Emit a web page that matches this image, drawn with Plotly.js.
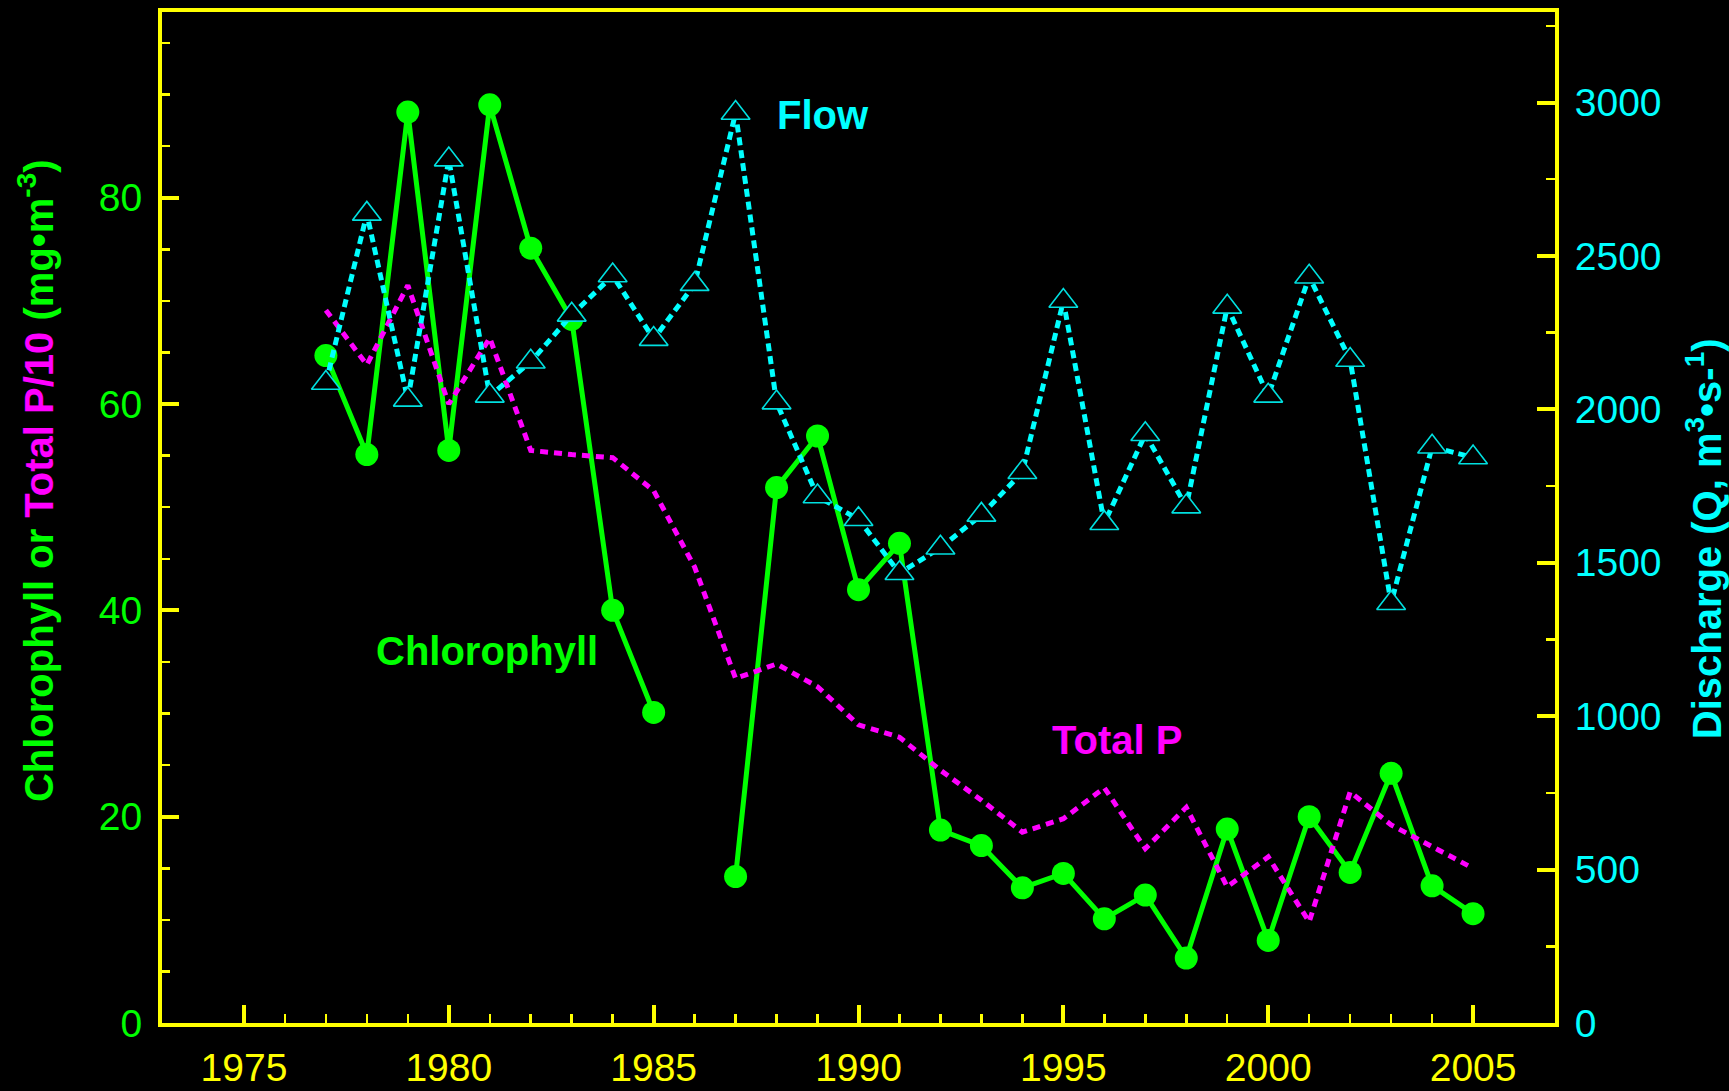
<!DOCTYPE html>
<html>
<head>
<meta charset="utf-8">
<script src="https://cdn.plot.ly/plotly-3.0.1.min.js"></script>
<style>
  html, body { margin: 0; padding: 0; background: #000; }
  #chart { width: 1729px; height: 1091px; }
</style>
</head>
<body>
<div id="chart"></div>
<script>
// ---- Data ----
const years = [1977, 1978, 1979, 1980, 1981, 1982, 1983, 1984, 1985, 1986,
               1987, 1988, 1989, 1990, 1991, 1992, 1993, 1994, 1995, 1996,
               1997, 1998, 1999, 2000, 2001, 2002, 2003, 2004, 2005];

// Chlorophyll (mg m-3); 1986 missing
const chlorophyll = [64.7, 55.1, 88.3, 55.5, 89.0, 75.1, 68.2, 40.0, 30.1, null,
                     14.2, 51.9, 56.9, 42.0, 46.5, 18.7, 17.2, 13.1, 14.5, 10.1,
                     12.4, 6.3, 18.8, 8.0, 20.0, 14.6, 24.2, 13.3, 10.6];

// Total P / 10 (mg m-3)
const totalP10 = [69.1, 63.8, 71.5, 60.0, 66.4, 55.5, 55.1, 54.8, 51.6, 44.2,
                  33.4, 34.8, 32.6, 28.9, 27.7, 24.5, 21.6, 18.5, 19.8, 22.8,
                  16.9, 20.9, 13.2, 16.1, 9.8, 22.4, 19.2, 17.1, 15.0];

// Discharge Q (m3 s-1)
const discharge = [2086, 2637, 2031, 2814, 2044, 2155, 2308, 2436, 2229, 2408,
                   2966, 2022, 1716, 1642, 1466, 1549, 1656, 1795, 2353, 1629,
                   1919, 1683, 2334, 2044, 2432, 2161, 1368, 1878, 1843];

const xMinorTicks = [1976, 1977, 1978, 1979, 1981, 1982, 1983, 1984, 1986, 1987,
                     1988, 1989, 1991, 1992, 1993, 1994, 1996, 1997, 1998, 1999,
                     2001, 2002, 2003, 2004];

const seriesLabels = { flow: 'Flow', chl: 'Chlorophyll', tp: 'Total P' };
const leftTitle = '<b>Chlorophyll or <span style="color:#FF00FF">Total P/10</span> (mg•m<sup>-3</sup>)</b>';
const rightTitle = '<b>Discharge (Q, m<sup>3</sup>•s-<sup>1</sup>)</b>';

// ---- Styles ----
const FONT = 'Arial, "Liberation Sans", sans-serif';
const YELLOW = '#FFFF00';
const GREEN = '#00FF00';
const MAGENTA = '#FF00FF';
const CYAN = '#00FFFF';

const traces = [
  {
    x: years, y: chlorophyll, name: seriesLabels.chl,
    type: 'scatter', mode: 'lines+markers', yaxis: 'y',
    connectgaps: false,
    line: { color: GREEN, width: 5 },
    marker: { color: GREEN, size: 23, symbol: 'circle' }
  },
  {
    x: years, y: totalP10, name: seriesLabels.tp,
    type: 'scatter', mode: 'lines', yaxis: 'y',
    line: { color: MAGENTA, width: 5, dash: '8px,6px' }
  },
  {
    x: years, y: discharge, name: seriesLabels.flow,
    type: 'scatter', mode: 'lines+markers', yaxis: 'y2',
    line: { color: CYAN, width: 5, dash: '8px,5px' },
    marker: { symbol: 'triangle-up', size: 25, color: '#000000',
              line: { color: '#00E0E0', width: 1.6 } }
  }
];

const layout = {
  width: 1729, height: 1091,
  paper_bgcolor: '#000000', plot_bgcolor: '#000000',
  showlegend: false,
  margin: { l: 162, r: 174, t: 12, b: 68, pad: 0 },
  font: { family: FONT },
  xaxis: {
    range: [1973, 2007],
    showgrid: false, zeroline: false,
    showline: true, linecolor: YELLOW, linewidth: 4, mirror: true,
    tickmode: 'linear', tick0: 1975, dtick: 5,
    ticks: 'inside', ticklen: 18, tickwidth: 4, tickcolor: YELLOW,
    ticklabelstandoff: 7,
    tickfont: { family: FONT, size: 39, color: YELLOW },
    minor: { tickmode: 'array', tickvals: xMinorTicks, ticks: 'inside',
             ticklen: 9, tickwidth: 2.5, tickcolor: YELLOW, showgrid: false }
  },
  yaxis: {
    range: [0, 98],
    showgrid: false, zeroline: false,
    showline: true, linecolor: YELLOW, linewidth: 4,
    tickmode: 'linear', tick0: 0, dtick: 20,
    ticks: 'inside', ticklen: 17, tickwidth: 4, tickcolor: YELLOW,
    ticklabelstandoff: 8,
    tickfont: { family: FONT, size: 39, color: GREEN },
    minor: { tick0: 0, dtick: 5, ticks: 'inside',
             ticklen: 8, tickwidth: 2.5, tickcolor: YELLOW, showgrid: false }
  },
  yaxis2: {
    range: [0, 3295],
    overlaying: 'y', side: 'right',
    showgrid: false, zeroline: false,
    showline: true, linecolor: YELLOW, linewidth: 4,
    tickmode: 'linear', tick0: 0, dtick: 500,
    ticks: 'inside', ticklen: 18, tickwidth: 4, tickcolor: YELLOW,
    ticklabelstandoff: 8,
    tickfont: { family: FONT, size: 39, color: CYAN },
    minor: { tick0: 0, dtick: 250, ticks: 'inside',
             ticklen: 9, tickwidth: 2.5, tickcolor: YELLOW, showgrid: false }
  },
  annotations: [
    { text: leftTitle, textangle: -90, x: 0, y: 0.536, xref: 'paper', yref: 'paper',
      xshift: -126, showarrow: false, xanchor: 'center', yanchor: 'middle',
      font: { family: FONT, size: 40, color: GREEN } },
    { text: rightTitle, textangle: -90, x: 1, y: 0.4785, xref: 'paper', yref: 'paper',
      xshift: 149, showarrow: false, xanchor: 'center', yanchor: 'middle',
      font: { family: FONT, size: 40, color: CYAN } },
    { text: '<b>' + seriesLabels.flow + '</b>', x: 1989.14, y: 88.0, xref: 'x', yref: 'y',
      showarrow: false, xanchor: 'center', yanchor: 'middle',
      font: { family: FONT, size: 40, color: CYAN } },
    { text: '<b>' + seriesLabels.chl + '</b>', x: 1980.93, y: 36.05, xref: 'x', yref: 'y',
      showarrow: false, xanchor: 'center', yanchor: 'middle',
      font: { family: FONT, size: 40, color: GREEN } },
    { text: '<b>' + seriesLabels.tp + '</b>', x: 1996.31, y: 27.4, xref: 'x', yref: 'y',
      showarrow: false, xanchor: 'center', yanchor: 'middle',
      font: { family: FONT, size: 40, color: MAGENTA } }
  ]
};

Plotly.newPlot('chart', traces, layout, { displayModeBar: false, staticPlot: true });
</script>
</body>
</html>
